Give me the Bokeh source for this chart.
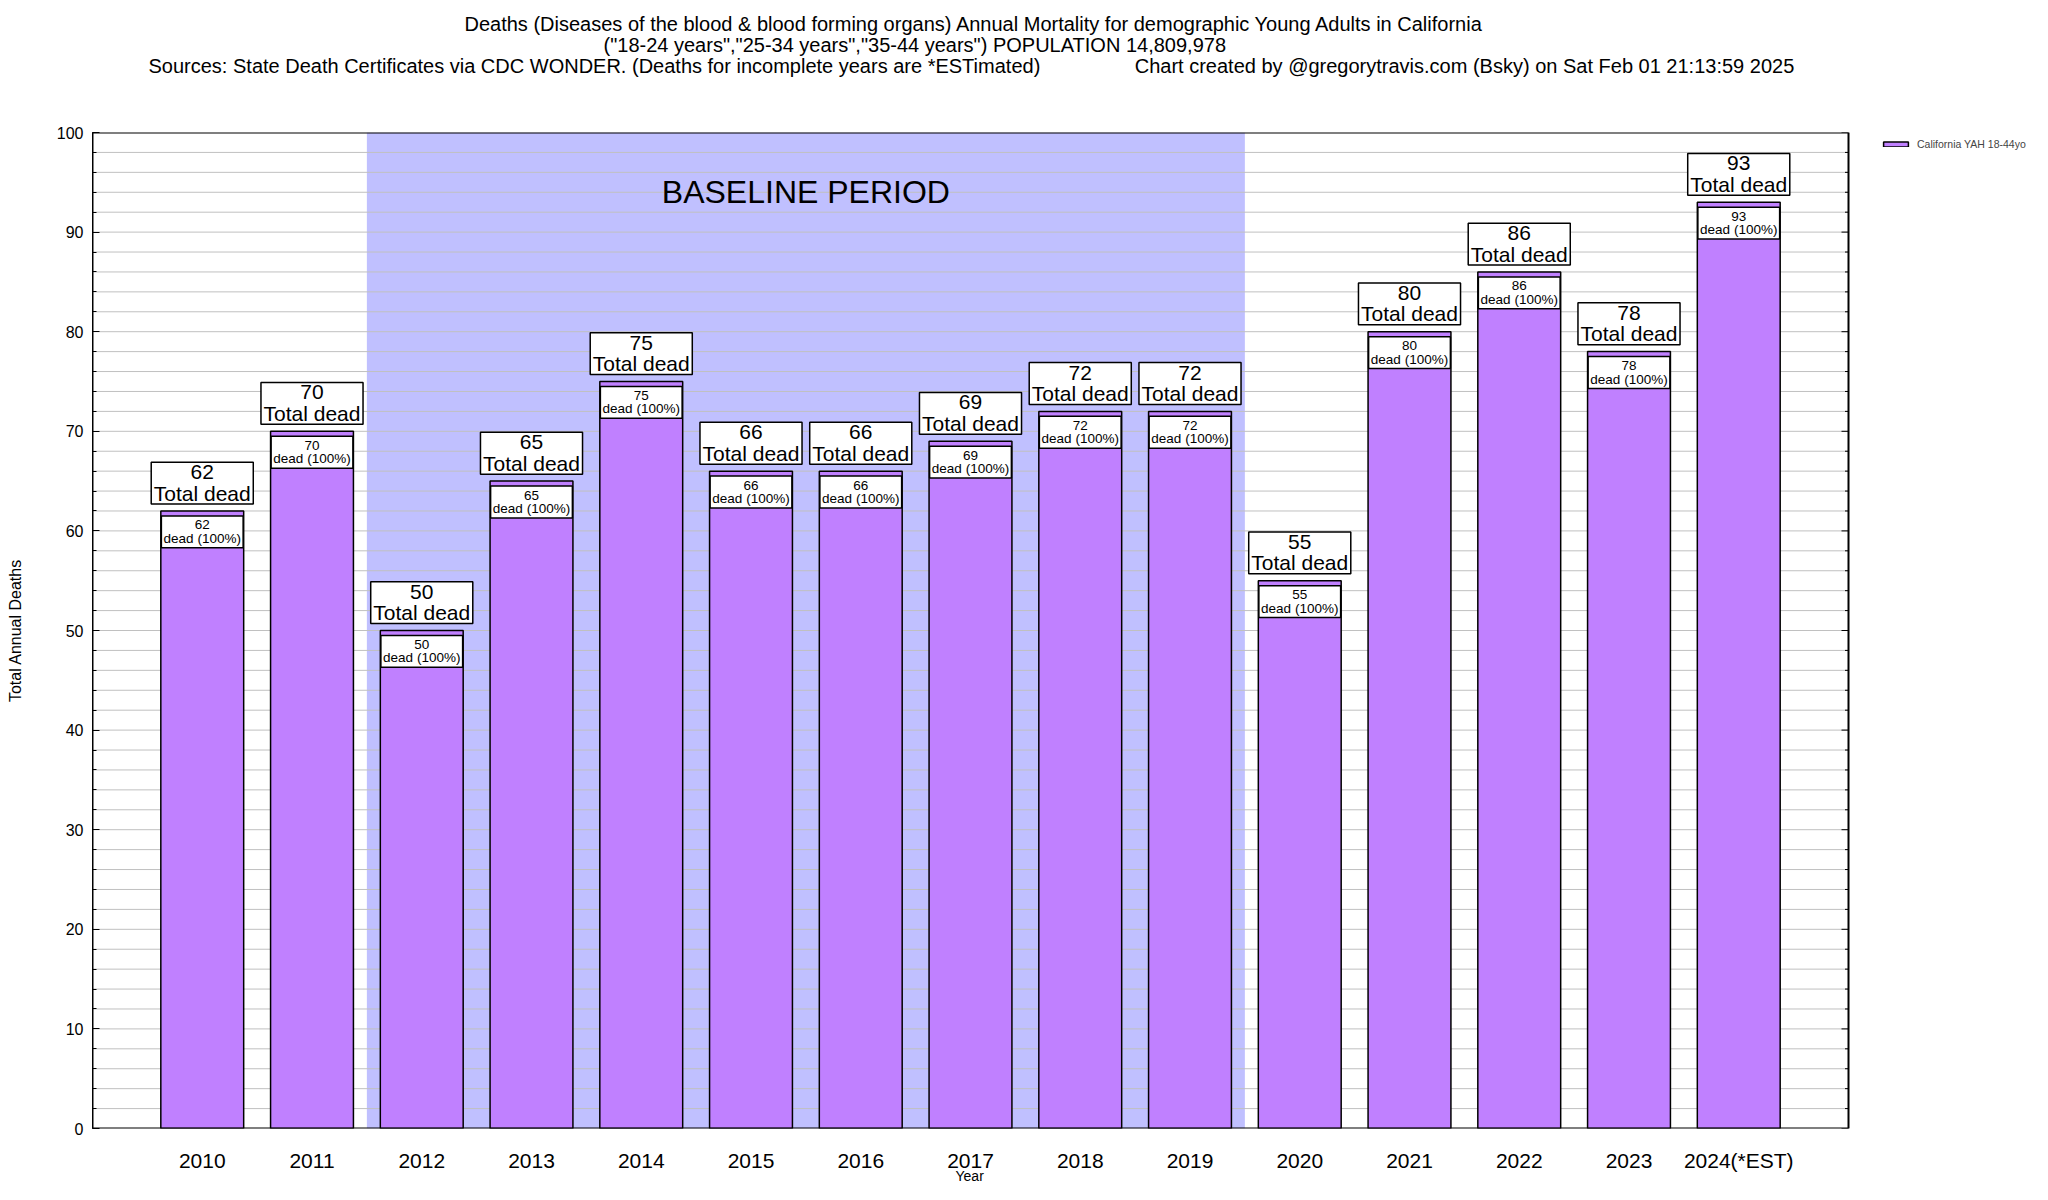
from bokeh.plotting import figure
from bokeh.models import Range1d, FixedTicker, Title, Legend, LegendItem, ColumnDataSource
from bokeh.core.properties import value
from bokeh.embed import file_html
from bokeh.resources import INLINE

# ---------------- data ----------------
years = ["2010", "2011", "2012", "2013", "2014", "2015", "2016", "2017",
         "2018", "2019", "2020", "2021", "2022", "2023", "2024(*EST)"]
deaths = [62, 70, 50, 65, 75, 66, 66, 69, 72, 72, 55, 80, 86, 78, 93]
baseline_start = "2012"
baseline_end = "2019"
series_name = "California YAH 18-44yo"
y_ticks = [0, 10, 20, 30, 40, 50, 60, 70, 80, 90, 100]
y_minor = list(range(0, 101, 2))
GAP = "\u00a0" * 17
title_lines = [
    "Deaths (Diseases of the blood & blood forming organs) Annual Mortality for demographic Young Adults in California",
    "(\"18-24 years\",\"25-34 years\",\"35-44 years\") POPULATION 14,809,978",
    "Sources: State Death Certificates via CDC WONDER. (Deaths for incomplete years are *ESTimated)"
    + GAP + "Chart created by @gregorytravis.com (Bsky) on Sat Feb 01 21:13:59 2025",
]
x_label = "Year"
y_label = "Total Annual Deaths"
y_max = 100

FONT = "Liberation Sans"
BAR = "#c080ff"
SHADE = "#c0c0ff"
GRID = "#c0c0c0"

# ---------------- geometry (pixels) ----------------
W, H = 2032, 1184
LEFT, TOP, BOTTOM = 92, 132, 56
PLOT_PX = 1756                     # width of the drawn plot box
x0, x1 = -1, len(years)            # drawn box spans these x values
upp = (x1 - x0) / PLOT_PX          # data units per pixel
x_end = x0 + (W - LEFT) * upp      # frame extends to the canvas edge (room for the key)

xs = list(range(len(years)))
pcts = [round(100 * d / d) for d in deaths]  # single series -> share of total

src = ColumnDataSource(dict(
    x=xs,
    top=deaths,
    val=[str(d) for d in deaths],
    pct=[f"dead ({p}%)" for p in pcts],
    total=["Total dead"] * len(deaths),
    in_y=[d - 2.1 for d in deaths],
    in_v=[d - 1.4 for d in deaths],
    in_p=[d - 2.75 for d in deaths],
    out_y=[d + 2.8 for d in deaths],
    out_v=[d + 3.9 for d in deaths],
    out_t=[d + 1.8 for d in deaths],
))

p = figure(width=W, height=H, output_backend="svg", toolbar_location=None,
           x_range=Range1d(x0, x_end), y_range=Range1d(0, y_max),
           min_border_left=LEFT, min_border_right=0, min_border_top=TOP,
           min_border_bottom=BOTTOM, title=None)


def mk_title(text, offset=0, standoff=0.0, size="20px", valign="bottom"):
    kw = dict(text=text, align="left", offset=offset, text_font_size=size,
              vertical_align=valign,
              text_font=FONT, text_font_style="normal", text_color="black")
    try:
        return Title(standoff=standoff, **kw), True
    except Exception:
        return Title(standoff=0, **kw), False


t3, neg_ok = mk_title(title_lines[2], offset=56, standoff=-3)
t2, _ = mk_title(title_lines[1], offset=511, standoff=-3)
t1, _ = mk_title(title_lines[0], offset=372, standoff=-3)
spacer, _ = mk_title(" ", standoff=53.6 if neg_ok else 48.5, size="1px")
# titles stack upward from the frame
p.add_layout(spacer, "above")
p.add_layout(t3, "above")
p.add_layout(t2, "above")
p.add_layout(t1, "above")

# baseline shading
b0 = years.index(baseline_start) - 0.5
b1 = years.index(baseline_end) + 0.5
p.quad(left=[b0], right=[b1], bottom=[0], top=[y_max], fill_color=SHADE,
       line_color=None, level="image")

# grid lines (inside the drawn box only)
gy = [v for v in y_minor if 0 < v < y_max]
p.segment(x0=[x0] * len(gy), x1=[x1] * len(gy), y0=gy, y1=gy,
          line_color=GRID, line_width=1, level="underlay")

p.text(x=[(b0 + b1) / 2], y=[94], text=["BASELINE PERIOD"], text_align="center",
       text_baseline="middle", text_font=value(FONT), text_font_size="32px", text_color="black")

bars = p.vbar(x="x", top="top", bottom=0, width=0.755, fill_color=BAR,
              line_color="black", line_width=1.5, source=src)

# inner boxes
p.rect(x="x", y="in_y", width=0.745, height=3.2, fill_color="white",
       line_color="black", line_width=1.5, source=src)
p.text(x="x", y="in_v", text="val", text_align="center", text_baseline="middle",
       text_font=value(FONT), text_font_size="13.5px", text_color="black", source=src)
p.text(x="x", y="in_p", text="pct", text_align="center", text_baseline="middle",
       text_font=value(FONT), text_font_size="13.5px", text_color="black", source=src)

# outer boxes
p.rect(x="x", y="out_y", width=0.93, height=4.2, fill_color="white",
       line_color="black", line_width=1.5, source=src)
p.text(x="x", y="out_v", text="val", text_align="center", text_baseline="middle",
       text_font=value(FONT), text_font_size="21px", text_color="black", source=src)
p.text(x="x", y="out_t", text="total", text_align="center", text_baseline="middle",
       text_font=value(FONT), text_font_size="21px", text_color="black", source=src)

# mirrored ticks on the right edge of the box
minor_only = [v for v in y_minor if v not in y_ticks]
p.segment(x0=[x1] * len(y_ticks), x1=[x1 - 7 * upp] * len(y_ticks), y0=y_ticks, y1=y_ticks,
          line_color="black", line_width=1)
p.segment(x0=[x1] * len(minor_only), x1=[x1 - 3.5 * upp] * len(minor_only),
          y0=minor_only, y1=minor_only, line_color="black", line_width=1)

# plot box border
p.quad(left=[x0], right=[x1], bottom=[0], top=[y_max], fill_color=None,
       line_color="black", line_width=2)

# axes
p.xaxis.ticker = FixedTicker(ticks=xs)
p.xaxis.major_label_overrides = {i: y for i, y in enumerate(years)}
p.xaxis.major_tick_line_color = None
p.xaxis.major_tick_in = 0
p.xaxis.major_tick_out = 0
p.xaxis.minor_tick_line_color = None
p.xaxis.minor_tick_in = 0
p.xaxis.minor_tick_out = 0
p.xaxis.major_label_text_font = FONT
p.xaxis.major_label_text_font_size = "21px"
p.xaxis.major_label_text_color = "black"
p.xaxis.major_label_standoff = 20 if neg_ok else 15
p.xaxis.axis_line_color = None

# x-axis title, centred under the plot box (below the tick labels)
xtitle, _ = mk_title(x_label, offset=(PLOT_PX / 2) - 15, standoff=-14, size="14px", valign="top")
p.add_layout(xtitle, "below")

p.yaxis.ticker = FixedTicker(ticks=y_ticks, minor_ticks=y_minor)
p.yaxis.major_tick_in = 7
p.yaxis.major_tick_out = 0
p.yaxis.minor_tick_in = 4
p.yaxis.minor_tick_out = 0
p.yaxis.major_tick_line_color = "black"
p.yaxis.minor_tick_line_color = "black"
p.yaxis.major_label_text_font = FONT
p.yaxis.major_label_text_font_size = "16px"
p.yaxis.major_label_text_color = "black"
p.yaxis.major_label_standoff = 9
p.yaxis.axis_label = y_label
p.yaxis.axis_label_text_font = FONT
p.yaxis.axis_label_text_font_size = "16px"
p.yaxis.axis_label_text_font_style = "normal"
p.yaxis.axis_label_text_color = "black"
p.yaxis.axis_label_standoff = 30
p.yaxis.axis_line_color = "black"

p.xgrid.grid_line_color = None
p.ygrid.grid_line_color = None
p.outline_line_color = None

# key, in the empty strip right of the plot box
legend = Legend(items=[LegendItem(label=series_name, renderers=[bars])],
                location=(1788, 978),
                label_text_font=FONT, label_text_font_size="10.5px",
                border_line_color=None, background_fill_alpha=0, margin=0, padding=0,
                label_standoff=6, glyph_width=31, glyph_height=6, label_height=12)
p.add_layout(legend)

open("out.html", "w").write(file_html(p, INLINE))
